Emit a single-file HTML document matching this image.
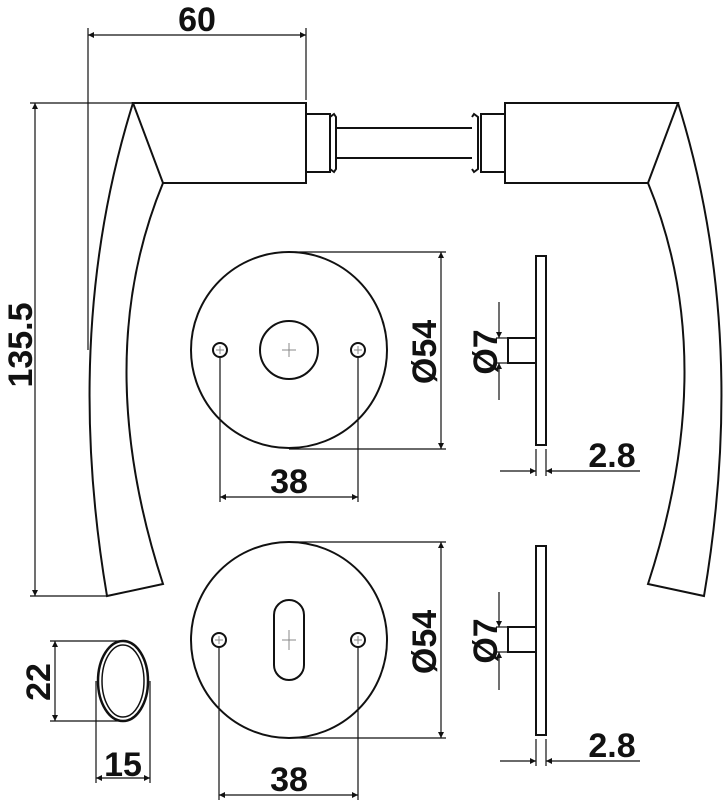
<!DOCTYPE html>
<html><head><meta charset="utf-8"><style>
html,body{margin:0;padding:0;background:#fff;}
svg{display:block;}
text{font-family:"Liberation Sans",sans-serif;font-weight:bold;fill:#111;}
</style></head><body>
<svg width="725" height="800" viewBox="0 0 725 800" xmlns="http://www.w3.org/2000/svg">
<defs>
<marker id="a" viewBox="0 0 10 10" refX="10" refY="5" markerWidth="14" markerHeight="6" markerUnits="userSpaceOnUse" orient="auto-start-reverse"><path d="M0,0L10,5L0,10z" fill="#111"/></marker>
</defs>
<g fill="none" stroke="#111" stroke-width="2">
<path d="M133,103 L306,103 L306,183 L163,183 Z"/>
<path d="M133,103 Q62,330 107,596 L163,584 Q90,360 163,183"/>
<rect x="306" y="114" width="24" height="58"/>
<path d="M330,117 L334,114 L336,117 L336,169 L334,172 L330,169"/>
<line x1="336" y1="128" x2="472" y2="128"/>
<line x1="336" y1="158" x2="472" y2="158"/>
<path d="M472,117 L474,114 L478,117 L478,169 L474,172 L472,169"/>
<rect x="481" y="114" width="24" height="58"/>
<path d="M505,103 L678,103 L648,183 L505,183 Z"/>
<path d="M678,103 Q749,330 704,596 L648,584 Q721,360 648,183"/>
<circle cx="289" cy="350" r="98"/>
<circle cx="289" cy="350" r="29"/>
<circle cx="220" cy="350" r="7"/>
<circle cx="358" cy="350" r="7"/>
<circle cx="289" cy="640" r="98"/>
<rect x="274" y="600" width="30" height="80" rx="15"/>
<circle cx="219" cy="640" r="7"/>
<circle cx="358" cy="640" r="7"/>
<rect x="536" y="256" width="10" height="189"/>
<rect x="508" y="338" width="28" height="25"/>
<rect x="536" y="546" width="10" height="189"/>
<rect x="508" y="627" width="28" height="25"/>
<ellipse cx="123" cy="681" rx="25" ry="40" stroke-width="2.5"/>
<ellipse cx="123" cy="681" rx="21" ry="36" stroke-width="1.5"/>
</g>
<g fill="none" stroke="#888" stroke-width="1">
<path d="M282,350h14M289,343v14M216,350h8M220,346v8M354,350h8M358,346v8"/>
<path d="M282,640h14M289,630v20M215,640h8M219,636v8M354,640h8M358,636v8"/>
</g>
<g fill="none" stroke="#111" stroke-width="1.2">
<line x1="88" y1="28" x2="88" y2="350"/>
<line x1="306" y1="28" x2="306" y2="100"/>
<line x1="88" y1="35" x2="306" y2="35" marker-start="url(#a)" marker-end="url(#a)"/>
<line x1="30" y1="103" x2="133" y2="103"/>
<line x1="30" y1="596" x2="107" y2="596"/>
<line x1="35" y1="103" x2="35" y2="596" marker-start="url(#a)" marker-end="url(#a)"/>
<line x1="289" y1="252" x2="446" y2="252"/>
<line x1="289" y1="449" x2="446" y2="449"/>
<line x1="441" y1="252" x2="441" y2="449" marker-start="url(#a)" marker-end="url(#a)"/>
<line x1="220" y1="358" x2="220" y2="502"/>
<line x1="358" y1="358" x2="358" y2="502"/>
<line x1="220" y1="497" x2="358" y2="497" marker-start="url(#a)" marker-end="url(#a)"/>
<line x1="496" y1="338" x2="508" y2="338"/>
<line x1="496" y1="363" x2="508" y2="363"/>
<line x1="499" y1="302" x2="499" y2="338" marker-end="url(#a)"/>
<line x1="499" y1="400" x2="499" y2="363" marker-end="url(#a)"/>
<line x1="536" y1="449" x2="536" y2="476"/>
<line x1="546" y1="449" x2="546" y2="476"/>
<line x1="500" y1="471" x2="536" y2="471" marker-end="url(#a)"/>
<line x1="640" y1="471" x2="546" y2="471" marker-end="url(#a)"/>
<line x1="289" y1="542" x2="446" y2="542"/>
<line x1="289" y1="738" x2="446" y2="738"/>
<line x1="441" y1="542" x2="441" y2="738" marker-start="url(#a)" marker-end="url(#a)"/>
<line x1="219" y1="648" x2="219" y2="800"/>
<line x1="358" y1="648" x2="358" y2="800"/>
<line x1="219" y1="795" x2="358" y2="795" marker-start="url(#a)" marker-end="url(#a)"/>
<line x1="496" y1="627" x2="508" y2="627"/>
<line x1="496" y1="652" x2="508" y2="652"/>
<line x1="499" y1="592" x2="499" y2="627" marker-end="url(#a)"/>
<line x1="499" y1="690" x2="499" y2="652" marker-end="url(#a)"/>
<line x1="536" y1="739" x2="536" y2="766"/>
<line x1="546" y1="739" x2="546" y2="766"/>
<line x1="500" y1="761" x2="536" y2="761" marker-end="url(#a)"/>
<line x1="640" y1="761" x2="546" y2="761" marker-end="url(#a)"/>
<line x1="50" y1="641" x2="123" y2="641"/>
<line x1="50" y1="721" x2="123" y2="721"/>
<line x1="55" y1="641" x2="55" y2="721" marker-start="url(#a)" marker-end="url(#a)"/>
<line x1="96" y1="681" x2="96" y2="783"/>
<line x1="150" y1="681" x2="150" y2="783"/>
<line x1="96" y1="778" x2="150" y2="778" marker-start="url(#a)" marker-end="url(#a)"/>
</g>
<g font-size="34">
<text x="197" y="31" text-anchor="middle">60</text>
<text x="289" y="493" text-anchor="middle">38</text>
<text x="289" y="791" text-anchor="middle">38</text>
<text x="612" y="467" text-anchor="middle">2.8</text>
<text x="612" y="757" text-anchor="middle">2.8</text>
<text x="123" y="776" text-anchor="middle">15</text>
<text transform="translate(32,345) rotate(-90)" text-anchor="middle">135.5</text>
<text transform="translate(436,352) rotate(-90)" text-anchor="middle">Ø54</text>
<text transform="translate(436,642) rotate(-90)" text-anchor="middle">Ø54</text>
<text transform="translate(497,352) rotate(-90)" text-anchor="middle">Ø7</text>
<text transform="translate(497,641) rotate(-90)" text-anchor="middle">Ø7</text>
<text transform="translate(50,682) rotate(-90)" text-anchor="middle">22</text>
</g>
</svg>
</body></html>
